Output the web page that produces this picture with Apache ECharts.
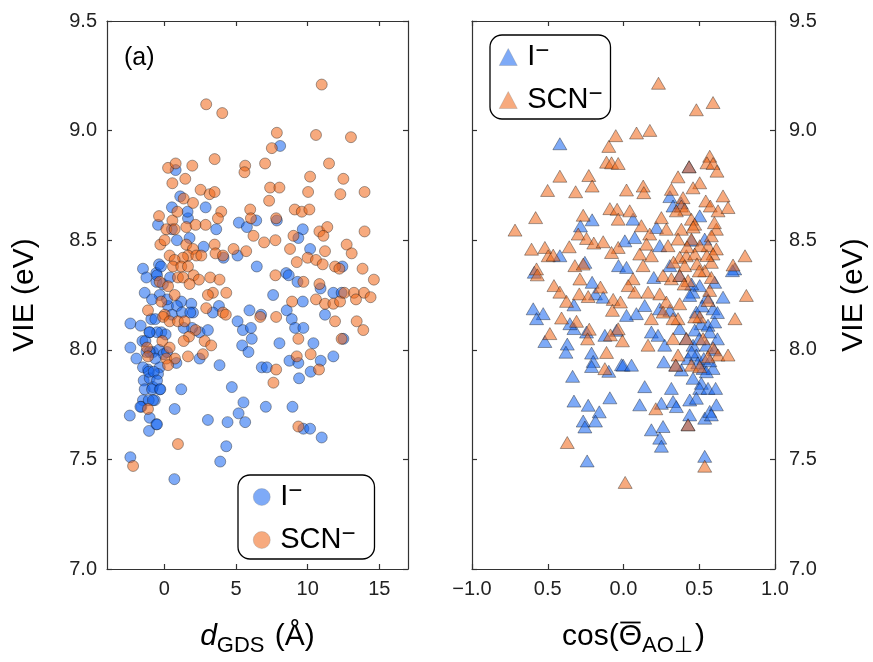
<!DOCTYPE html>
<html>
<head>
<meta charset="utf-8">
<script src="https://cdn.jsdelivr.net/npm/echarts@6/dist/echarts.min.js"></script>
<style>
  html, body { margin: 0; padding: 0; background: #ffffff; }
  #chart { width: 873px; height: 662px; }
</style>
</head>
<body>
<div id="chart"></div>
<script>
// Vertical ionization energy of I- and SCN- versus distance from the
// Gibbs dividing surface (left) and versus mean orientation cosine (right).

// --- left panel: [d_GDS (Å), VIE (eV)] ---
const iodideByDistance = [
  [0.79,8.82],[1.11,8.70],[2.88,8.65],[-0.44,8.57],[1.65,8.60],[3.62,8.55],[0.88,8.50],[1.76,8.51],
  [2.74,8.47],[-0.37,8.39],[-1.49,8.37],[-1.25,8.33],[-0.56,8.35],[-0.56,8.31],[-1.37,8.26],[-0.32,8.25],
  [1.18,8.22],[3.81,8.20],[3.39,8.17],[-0.91,8.14],[0.26,8.20],[0.88,8.20],[1.88,8.21],[2.00,8.17],
  [-2.37,8.12],[-1.65,8.11],[-1.02,8.08],[-0.21,8.08],[0.09,8.07],[2.46,8.08],[3.04,8.09],[-2.37,8.01],
  [-1.53,8.04],[-1.95,7.96],[-1.25,7.99],[-0.79,7.99],[-0.37,8.00],[-0.05,7.98],[-0.32,7.92],[-1.14,7.91],
  [-1.49,7.92],[2.46,7.96],[3.85,7.93],[-1.44,7.86],[-1.02,7.87],[-0.44,7.89],[-1.37,7.82],[-0.79,7.83],
  [-0.32,7.82],[1.18,7.82],[-1.49,7.77],[-0.67,7.77],[-1.60,7.74],[-2.41,7.70],[-1.02,7.69],[-0.56,7.66],
  [-1.07,7.63],[0.72,7.73],[3.04,7.68],[-2.37,7.51],[3.90,7.49],[4.32,7.56],[0.70,7.41],[4.13,8.42],
  [-1.32,8.04],[-1.02,7.99],[-0.63,7.96],[0.19,7.99],[-1.09,7.90],[-0.74,7.90],[-0.51,7.86],[-0.86,7.82],
  [-0.28,7.82],[-1.09,7.77],[-0.79,7.77],[-1.67,7.74],[-0.51,7.66],[0.84,7.94],[1.93,8.10],[-0.51,8.08],
  [-1.04,8.08],[-0.23,8.38],[-0.51,8.34],[-0.86,8.23],[0.19,8.23],[0.53,8.16],[1.23,8.17],[1.81,8.17],
  [-0.63,8.14],[1.35,8.10],[-0.10,8.30],[0.40,8.33],[0.53,8.65],[1.62,8.63],[0.53,8.55],
  [5.20,8.58],[5.76,8.56],[6.41,8.59],[7.85,8.59],[9.66,8.55],[9.35,8.51],[10.17,8.46],[5.11,8.43],
  [6.45,8.38],[8.50,8.35],[8.68,8.34],[7.59,8.25],[9.66,8.22],[9.29,8.31],[11.79,8.26],[12.37,8.26],
  [12.42,8.38],[11.21,8.16],[5.94,8.18],[6.75,8.16],[8.54,8.18],[8.89,8.14],[9.12,8.10],[9.70,8.10],
  [5.11,8.13],[5.48,8.09],[6.04,8.10],[8.08,8.93],[10.90,8.28],
  [6.10,8.05],[5.43,8.02],[5.87,7.99],[6.80,7.92],[7.15,7.92],[8.03,8.03],[8.73,7.95],[9.35,7.94],
  [10.21,7.90],[10.40,8.03],[10.91,7.95],[11.79,7.97],[12.49,8.05],[9.40,7.87],[4.71,7.83],[5.52,7.76],
  [5.18,7.71],[5.64,7.67],[4.41,7.67],[7.08,7.74],[8.94,7.74],[9.70,7.64],[10.17,7.64],[10.98,7.60]
];

const thiocyanateByDistance = [
  [0.26,8.83],[0.79,8.85],[1.95,8.84],[3.51,8.87],[1.46,8.78],[0.56,8.76],[2.53,8.73],[3.16,8.71],
  [3.51,8.72],[1.35,8.69],[2.00,8.67],[3.97,8.63],[-0.37,8.61],[0.56,8.59],[0.91,8.63],[1.53,8.56],
  [2.18,8.57],[2.88,8.57],[3.74,8.60],[0.14,8.55],[0.72,8.55],[-0.28,8.48],[0.02,8.50],[3.51,8.48],
  [3.57,8.44],[4.09,8.43],[1.53,8.48],[2.00,8.46],[1.65,8.43],[1.30,8.42],[2.23,8.43],[2.58,8.43],
  [0.37,8.43],[0.72,8.41],[0.60,8.38],[1.18,8.38],[1.65,8.38],[2.04,8.34],[2.41,8.32],[-0.32,8.31],
  [0.26,8.29],[0.95,8.33],[1.30,8.33],[1.76,8.30],[3.20,8.33],[3.85,8.32],[3.39,8.26],[3.04,8.25],
  [0.72,8.25],[2.92,8.19],[4.09,8.17],[-1.14,8.18],[0.02,8.16],[-0.21,8.22],[-0.09,8.15],[0.37,8.13],
  [0.95,8.13],[1.42,8.13],[-0.14,8.04],[2.18,8.09],[1.72,8.06],[-1.21,8.01],[-1.14,7.97],[0.37,8.01],
  [0.14,7.96],[0.74,7.96],[0.26,7.93],[2.81,8.04],[3.27,8.02],[1.35,8.04],[1.65,7.97],[2.69,7.98],
  [-1.14,7.73],[0.95,7.57],[-2.18,7.47],
  [2.92,9.12],[4.04,9.08],[10.98,9.21],[7.85,8.99],[10.58,8.98],[13.02,8.97],[7.50,8.92],
  [5.64,8.84],[5.59,8.81],[7.03,8.85],[11.49,8.85],[10.17,8.79],[12.49,8.78],[7.38,8.74],[8.03,8.74],
  [10.03,8.72],[12.28,8.71],[13.97,8.72],[7.31,8.68],[5.99,8.64],[6.04,8.60],[7.80,8.60],[9.10,8.64],
  [9.59,8.63],[10.12,8.64],[13.97,8.54],[10.82,8.54],[11.37,8.56],[11.10,8.52],[9.01,8.52],[6.22,8.52],
  [6.96,8.49],[7.75,8.50],[4.83,8.46],[5.71,8.45],[8.77,8.46],[10.00,8.42],[10.58,8.41],[11.21,8.45],
  [11.05,8.39],[12.72,8.48],[13.07,8.44],[13.83,8.37],[14.62,8.32],[11.91,8.38],[12.21,8.37],[9.24,8.40],
  [7.75,8.34],[8.91,8.22],[9.70,8.31],[10.82,8.30],[10.58,8.23],[11.21,8.21],[11.79,8.21],[12.26,8.22],
  [12.56,8.26],[13.23,8.26],[13.93,8.26],[14.39,8.24],[13.37,8.23],[13.42,8.13],[13.88,8.09],[11.91,8.13],
  [6.69,8.15],[7.80,8.15],[4.32,8.26],[4.29,8.16],
  [12.37,8.05],[9.35,8.05],[10.21,7.98],[10.79,7.91],[9.24,7.97],[7.80,7.91],[7.61,7.85],[9.35,7.65]
];

// --- right panel: [cos(Θ̄_AO⊥), VIE (eV)] ---
const iodideByOrientation = [
  [-0.42,8.94],[-0.284,8.565],[-0.207,8.593],[-0.42,8.429],[-0.589,8.354],[-0.255,8.399],[-0.207,8.308],
  [-0.327,8.205],[-0.185,8.255],[-0.134,8.24],[-0.033,8.384],[-0.596,8.187],[-0.53,8.165],[-0.574,8.142],
  [-0.327,8.097],[-0.354,8.119],[-0.244,8.081],[-0.123,8.066],[-0.046,8.089],
  [-0.519,8.038],[-0.371,8.026],[-0.38,7.989],[-0.336,7.879],[-0.327,7.766],[-0.233,7.747],[-0.16,7.717],
  [-0.266,7.675],[-0.255,7.648],[-0.185,7.675],[-0.09,7.781],[-0.211,7.985],[-0.2,7.947],[-0.211,7.924],
  [-0.097,7.902],[-0.013,7.932],[-0.24,7.493],
  [0.433,8.835],[0.306,8.699],[0.327,8.656],[0.503,8.611],[0.063,8.596],[0.218,8.558],[0.536,8.505],
  [0.074,8.512],[0.009,8.497],[0.239,8.475],[0.020,8.376],[0.306,8.384],[0.734,8.369],[0.371,8.339],
  [0.503,8.293],[0.459,8.263],[0.602,8.308],[0.657,8.240],[0.140,8.202],[0.306,8.180],[0.437,8.248],
  [0.481,8.172],[0.591,8.187],[0.512,8.119],[0.558,8.112],[0.602,8.127],[0.569,8.081],[0.085,8.165],
  [0.020,8.157],[0.239,8.187],[0.184,8.081],[0.228,8.066],[0.272,8.021],[0.371,8.097],[0.415,8.051],
  [0.459,8.021],[0.547,8.021],[0.382,7.908],[0.426,7.960],[0.481,7.976],[0.525,7.915],[0.591,7.915],
  [0.547,7.900],[0.266,7.945],[-0.002,7.930],[0.053,7.930],[0.140,7.832],[0.316,7.824],[0.459,7.870],
  [0.514,7.847],[0.503,7.824],[0.558,7.824],[0.608,7.824],[0.107,7.749],[0.250,7.756],[0.327,7.764],
  [0.349,7.741],[0.437,7.771],[0.481,7.779],[0.536,7.688],[0.569,7.719],[0.613,7.749],[0.580,7.703],
  [0.426,7.658],[0.437,7.703],[0.184,7.635],[0.261,7.650],[0.239,7.597],[0.250,7.560],[0.536,7.514],
  [0.345,7.930],[0.719,8.361],[0.47,8.09],[0.50,8.05],[0.53,7.96],[0.45,7.99],[0.60,8.00],[0.57,7.95],
  [0.62,8.05],[0.49,7.94],[0.55,8.24],[0.52,8.20],[0.45,8.30],[0.62,8.17],[0.20,8.33],[0.38,8.67],
  [0.45,8.50]
];

const thiocyanateByOrientation = [
  [0.231,9.216],[0.481,9.095],[0.591,9.128],[-0.051,8.977],[0.086,8.989],[0.174,9.001],
  [-0.097,8.928],[-0.112,8.856],[-0.079,8.853],[-0.035,8.85],[-0.42,8.792],[-0.229,8.795],[-0.207,8.747],
  [-0.501,8.727],[-0.316,8.721],[-0.58,8.603],[-0.716,8.546],[-0.266,8.614],[-0.09,8.644],[-0.042,8.641],
  [-0.035,8.596],[-0.299,8.528],[-0.244,8.508],[-0.196,8.487],[-0.134,8.493],[-0.358,8.47],[-0.607,8.459],
  [-0.519,8.467],[-0.497,8.429],[-0.464,8.432],[-0.574,8.369],[-0.569,8.342],[-0.321,8.384],[-0.266,8.391],
  [-0.288,8.323],[-0.459,8.293],[-0.42,8.263],[-0.376,8.221],[-0.292,8.255],[-0.233,8.243],[-0.152,8.286],
  [-0.068,8.23],[-0.073,8.18],[-0.035,8.467],[-0.079,8.444],[-0.409,8.145],[-0.31,8.13],[-0.226,8.094],
  [-0.035,8.096],[-0.486,8.074],
  [-0.237,8.05],[-0.112,7.988],[-0.123,7.914],[-0.007,8.041],[-0.086,8.068],[-0.371,7.577],[0.011,7.395],
  [0.569,8.883],[0.551,8.853],[0.591,8.850],[0.617,8.815],[0.433,8.835],[0.360,8.789],[0.503,8.762],
  [0.459,8.739],[0.316,8.732],[0.393,8.694],[0.382,8.656],[0.404,8.641],[0.349,8.634],[0.448,8.596],
  [0.543,8.679],[0.573,8.656],[0.624,8.634],[0.657,8.702],[0.690,8.649],[0.020,8.729],[0.130,8.747],
  [0.134,8.717],[0.041,8.634],[0.118,8.566],[0.173,8.528],[0.250,8.603],[0.283,8.550],[0.382,8.550],
  [0.470,8.573],[0.613,8.550],[0.580,8.520],[0.558,8.475],[0.613,8.460],[0.152,8.482],[0.294,8.475],
  [0.360,8.505],[0.448,8.505],[0.503,8.475],[0.107,8.437],[0.184,8.429],[0.129,8.384],[0.371,8.422],
  [0.415,8.429],[0.470,8.437],[0.591,8.437],[0.580,8.399],[0.536,8.361],[0.485,8.392],[0.404,8.384],
  [0.723,8.387],[0.261,8.339],[0.316,8.324],[0.426,8.316],[0.371,8.339],[0.569,8.271],[0.063,8.324],
  [0.031,8.293],[0.074,8.263],[0.162,8.263],[0.239,8.255],[0.283,8.218],[0.261,8.172],[0.371,8.210],
  [0.360,8.142],[0.327,8.142],[0.558,8.225],[0.503,8.150],[0.470,8.150],[-0.02,8.218],[0.184,8.142],
  [0.162,8.021],[0.327,8.051],[0.415,8.051],[0.525,8.051],[0.591,8.009],[0.624,7.976],[0.690,7.976],
  [0.360,7.976],[0.345,7.930],[0.448,7.930],[0.503,7.923],[0.558,7.968],[0.213,7.731],[0.426,7.658],
  [0.536,7.469],[0.736,8.142],[0.802,8.429],[0.811,8.248],
  [0.42,8.47],[0.55,8.43],[0.50,8.36],[0.58,8.33],[0.40,8.30],[0.46,8.56],[0.60,8.58],[0.33,8.40]
];

// --- axis ticks ---
const vieTicks = [7.0, 7.5, 8.0, 8.5, 9.0, 9.5];
const distanceTicks = [0, 5, 10, 15];
const orientationTicks = [-1.0, -0.5, 0.0, 0.5, 1.0];
const orientationTickLabels = ['−1.0', '0.5', '0.0', '0.5', '1.0'];

const FONT = '"Liberation Sans", Arial, Helvetica, sans-serif';
const BLUE = '#1464f0';
const ORANGE = '#f06414';
const SPINE = { color: '#333333', width: 1.2 };

// panel frames
const leftGrid = { left: 107, top: 21, width: 301, height: 551 };
const rightGrid = { left: 472, top: 21, width: 303, height: 551 };

const tickStyle = { show: true, inside: true, length: 5, lineStyle: SPINE };
const tickLabel = { fontSize: 20, color: '#222222', fontFamily: FONT };

function frameAxis(extra) {
  return Object.assign({
    type: 'value',
    axisLine: { show: true, onZero: false, lineStyle: SPINE },
    splitLine: { show: false },
    axisLabel: { show: false },
    axisTick: tickStyle
  }, extra);
}

const TITLE_SIZE = 30;
const SUB_SIZE = 22;
const titleRich = {
  n: { fontSize: TITLE_SIZE, fontFamily: FONT, color: '#000', verticalAlign: 'top', lineHeight: 35 },
  i: { fontSize: TITLE_SIZE, fontFamily: FONT, fontStyle: 'italic', color: '#000', verticalAlign: 'top', lineHeight: 35 },
  s: { fontSize: SUB_SIZE, fontFamily: FONT, color: '#000', verticalAlign: 'bottom', lineHeight: 35, padding: [0, 2, 0, 0] }
};

const legendRich = {
  t: { fontSize: 29, fontFamily: FONT, color: '#000', verticalAlign: 'top', lineHeight: 30, padding: [0, 0, 0, 5] },
  m: { fontSize: 24, fontFamily: FONT, color: '#000', verticalAlign: 'top', height: 18, lineHeight: 30 }
};
const legendText = name => name === 'I-' ? '{t|I}{m|−}' : '{t|SCN}{m|−}';

function markerSeries(name, data, axis, symbol, size, color) {
  return {
    type: 'scatter',
    name: name,
    xAxisIndex: axis,
    yAxisIndex: axis,
    data: data,
    symbol: symbol,
    symbolSize: size,
    itemStyle: { color: color, opacity: 0.55, borderColor: '#111111', borderWidth: 0.7 },
    emphasis: { disabled: true }
  };
}

// Overbar for Θ in the right-hand axis title, placed from measured glyph widths.
const measureCtx = document.createElement('canvas').getContext('2d');
function textWidth(str, size) {
  measureCtx.font = size + 'px ' + FONT;
  return measureCtx.measureText(str).width;
}
const ORIENT_TITLE_SHIFT = 20;
const orientTitleCenter = rightGrid.left + rightGrid.width / 2 + ORIENT_TITLE_SHIFT / 2;
const wOpen = textWidth('cos(', TITLE_SIZE);
const wTheta = textWidth('Θ', TITLE_SIZE);
const wTitle = wOpen + wTheta + textWidth('AO⊥', SUB_SIZE) + 2 + textWidth(')', TITLE_SIZE);
const thetaLeft = orientTitleCenter - wTitle / 2 + wOpen;

const chart = echarts.init(document.getElementById('chart'), null, { renderer: 'canvas' });

chart.setOption({
  animation: false,
  backgroundColor: '#ffffff',
  grid: [leftGrid, rightGrid],
  xAxis: [
    frameAxis({
      gridIndex: 0, position: 'bottom', min: -4, max: 17,
      axisTick: Object.assign({ customValues: distanceTicks }, tickStyle),
      axisLabel: Object.assign({ show: true, margin: 10, customValues: distanceTicks }, tickLabel),
      name: '{i|d}{s|GDS}{n| (Å)}',
      nameLocation: 'middle', nameGap: 53,
      nameTextStyle: { rich: titleRich }
    }),
    frameAxis({
      gridIndex: 0, position: 'top', min: -4, max: 17,
      axisTick: Object.assign({ customValues: distanceTicks }, tickStyle)
    }),
    frameAxis({
      gridIndex: 1, position: 'bottom', min: -1, max: 1,
      axisTick: Object.assign({ customValues: orientationTicks }, tickStyle),
      axisLabel: Object.assign({
        show: true, margin: 10, customValues: orientationTicks,
        formatter: v => orientationTickLabels[orientationTicks.findIndex(t => Math.abs(t - v) < 1e-9)]
      }, tickLabel),
      name: '{n|cos(Θ}{s|AO⊥}{n|)}',
      nameLocation: 'middle', nameGap: 53,
      nameTextStyle: { rich: titleRich, padding: [0, 0, 0, ORIENT_TITLE_SHIFT] }
    }),
    frameAxis({
      gridIndex: 1, position: 'top', min: -1, max: 1,
      axisTick: Object.assign({ customValues: orientationTicks }, tickStyle)
    })
  ],
  yAxis: [
    frameAxis({
      gridIndex: 0, position: 'left', min: 7, max: 9.5,
      axisTick: Object.assign({ customValues: vieTicks }, tickStyle),
      axisLabel: Object.assign({ show: true, margin: 10, customValues: vieTicks, formatter: v => v.toFixed(1) }, tickLabel),
      name: 'VIE (eV)', nameLocation: 'middle', nameRotate: 90, nameGap: 67,
      nameTextStyle: { fontSize: 30, fontFamily: FONT, color: '#000' }
    }),
    frameAxis({
      gridIndex: 0, position: 'right', min: 7, max: 9.5,
      axisTick: Object.assign({ customValues: vieTicks }, tickStyle)
    }),
    frameAxis({
      gridIndex: 1, position: 'left', min: 7, max: 9.5,
      axisTick: Object.assign({ customValues: vieTicks }, tickStyle)
    }),
    frameAxis({
      gridIndex: 1, position: 'right', min: 7, max: 9.5,
      axisTick: Object.assign({ customValues: vieTicks }, tickStyle),
      axisLabel: Object.assign({ show: true, margin: 14, customValues: vieTicks, formatter: v => v.toFixed(1) }, tickLabel),
      name: 'VIE (eV)', nameLocation: 'middle', nameRotate: 90, nameGap: 64,
      nameTextStyle: { fontSize: 30, fontFamily: FONT, color: '#000' }
    })
  ],
  legend: [
    {
      left: 238, top: 475, orient: 'vertical',
      data: [{ name: 'I-', icon: 'circle' }, { name: 'SCN-', icon: 'circle' }],
      itemWidth: 17, itemHeight: 17, itemGap: 10,
      padding: [4, 19, 4, 15],
      borderColor: '#000', borderWidth: 1.3, borderRadius: 12,
      selectedMode: false,
      itemStyle: { borderWidth: 0.5, borderColor: '#777777' },
      formatter: legendText,
      textStyle: { rich: legendRich, lineHeight: 30 }
    },
    {
      left: 490, top: 35, orient: 'vertical',
      data: [{ name: 'I-', icon: 'triangle' }, { name: 'SCN-', icon: 'triangle' }],
      itemWidth: 18, itemHeight: 17, itemGap: 10,
      padding: [4, 8, 4, 9],
      borderColor: '#000', borderWidth: 1.3, borderRadius: 12,
      selectedMode: false,
      itemStyle: { borderWidth: 0.5, borderColor: '#777777' },
      formatter: legendText,
      textStyle: { rich: legendRich, lineHeight: 30 }
    }
  ],
  graphic: [
    { type: 'text', left: 124, top: 46, style: { text: '(a)', font: '25px ' + FONT, fill: '#000' } },
    {
      type: 'line',
      shape: { x1: thetaLeft + 1.5, y1: 622.5, x2: thetaLeft + wTheta - 1.5, y2: 622.5 },
      style: { stroke: '#000', lineWidth: 1.8 }
    }
  ],
  series: [
    markerSeries('I-', iodideByDistance, 0, 'circle', 11, BLUE),
    markerSeries('SCN-', thiocyanateByDistance, 0, 'circle', 11, ORANGE),
    markerSeries('I-', iodideByOrientation, 2, 'triangle', [14, 12], BLUE),
    markerSeries('SCN-', thiocyanateByOrientation, 2, 'triangle', [14, 12], ORANGE)
  ]
});
</script>
</body>
</html>
